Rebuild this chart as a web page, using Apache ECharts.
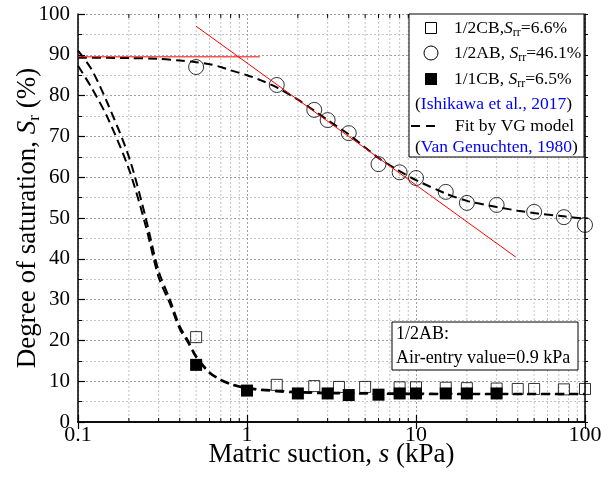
<!DOCTYPE html>
<html>
<head>
<meta charset="utf-8">
<script src="https://cdn.jsdelivr.net/npm/echarts@6/dist/echarts.min.js"></script>
<style>
html, body { margin: 0; padding: 0; background: #fff; }
#main { width: 601px; height: 495px; }
</style>
</head>
<body>
<div id="main"></div>
<script>
// measured points, s in kPa, Sr in %
var sCB2 = [0.5, 1.5, 2.5, 3.5, 5, 8, 10, 15, 20, 30, 40, 50, 75, 100];
var srCB2 = [20.8, 9.1, 8.8, 8.6, 8.6, 8.5, 8.5, 8.4, 8.3, 8.2, 8.1, 8.1, 8.0, 8.1];
var sAB = [0.5, 1.5, 2.5, 3, 4, 6, 8, 10, 15, 20, 30, 50, 75, 100];
var srAB = [87, 82.6, 76.5, 74, 70.8, 63.2, 61.2, 59.8, 56.4, 53.7, 53.2, 51.5, 50.2, 48.3];
var sCB1 = [0.5, 1, 2, 3, 4, 6, 8, 10, 15, 20, 30];
var srCB1 = [14, 7.7, 7.0, 7.0, 6.6, 6.7, 7.0, 7.0, 7.0, 7.0, 7.0];

// VG fitted curves
var fitS_AB = [0.1, 0.2, 0.3, 0.4, 0.5, 0.6, 0.7, 0.8, 1, 1.2, 1.5, 2, 2.5, 3, 4, 5, 6, 8, 10, 15, 20, 30, 40, 50, 75, 100];
var fitSr_AB = [89.3, 89.2, 89, 88.6, 88.2, 87.7, 87, 86.2, 85, 83.8, 82, 79, 76.3, 74, 70.5, 67.3, 64.7, 61.5, 59.3, 56, 54.2, 52.7, 51.8, 51.2, 50.4, 49.8];
var fitS_CB = [0.1, 0.12, 0.15, 0.2, 0.25, 0.3, 0.35, 0.4, 0.45, 0.5, 0.6, 0.7, 0.8, 1, 1.5, 2, 3, 5, 10, 20, 50, 100];
var fitSr_CB2 = [91, 86.5, 78, 65, 50.5, 37, 30, 23.5, 19.8, 16.2, 12.2, 10.4, 9.4, 8.4, 7.7, 7.4, 7.2, 7.1, 7.0, 6.9, 6.9, 6.9];
var fitSr_CB1 = [87.3, 82, 74.5, 62, 48.5, 35.5, 29, 22.8, 19.3, 15.8, 12.0, 10.2, 9.2, 8.2, 7.5, 7.2, 7.0, 6.9, 6.8, 6.8, 6.8, 6.8];

// red tangent lines for the air-entry value
var tangentFlat = [[0.1, 89.5], [1.19, 89.5]];
var tangentSlope = [[0.5, 97], [39, 40.4]];

var xMinor = [0.2, 0.3, 0.4, 0.5, 0.6, 0.7, 0.8, 0.9, 2, 3, 4, 5, 6, 7, 8, 9, 20, 30, 40, 50, 60, 70, 80, 90];

var FONT = 'Liberation Serif';

function zip(a, b) {
    return a.map(function (v, i) { return [v, b[i]]; });
}

var myChart = echarts.init(document.getElementById('main'));

var axisX = {
    type: 'log',
    logBase: 10,
    min: 0.1,
    max: 100,
    axisLine: { lineStyle: { color: '#000', width: 1.5 } },
    axisTick: { inside: true, length: 7, lineStyle: { color: '#000', width: 1.2 } },
    splitLine: { show: true, lineStyle: { color: '#a0a0a0', type: [2, 2], width: 1 } },
    minorTick: { show: false },
    minorSplitLine: { show: false }
};

var axisY = {
    type: 'value',
    min: 0,
    max: 100,
    interval: 10,
    axisLine: { show: true, lineStyle: { color: '#000', width: 1.5 } },
    axisTick: { show: true, inside: true, length: 7, lineStyle: { color: '#000', width: 1.2 } },
    minorTick: { show: true, splitNumber: 2, length: 4, lineStyle: { color: '#000', width: 1 } },
    splitLine: { show: true, lineStyle: { color: '#a0a0a0', type: [2, 2], width: 1 } },
    minorSplitLine: { show: true, lineStyle: { color: '#c4c4c4', type: [2, 2], width: 1 } }
};

var options = {
    animation: false,
    backgroundColor: '#fff',
    grid: { left: 78, right: 16, top: 14, bottom: 73, containLabel: false, outerBoundsMode: 'none' },
    xAxis: [
        Object.assign({}, axisX, {
            position: 'bottom',
            axisLabel: { color: '#000', fontFamily: FONT, fontSize: 22, margin: 2 },
            name: 'Matric suction, {i|s} (kPa)',
            nameLocation: 'middle',
            nameGap: 19,
            nameMoveOverlap: false,
            nameTextStyle: {
                color: '#000', fontFamily: FONT, fontSize: 27,
                rich: { i: { fontFamily: FONT, fontSize: 27, fontStyle: 'italic', color: '#000' } }
            }
        }),
        Object.assign({}, axisX, {
            position: 'top',
            axisLabel: { show: false },
            splitLine: { show: false }
        })
    ],
    yAxis: [
        Object.assign({}, axisY, {
            position: 'left',
            axisLabel: { color: '#000', fontFamily: FONT, fontSize: 21, margin: 8 },
            name: 'Degree of saturation, {i|S}{sub|r} (%)',
            nameLocation: 'middle',
            nameGap: 35,
            nameRotate: 90,
            nameMoveOverlap: false,
            nameTextStyle: {
                color: '#000', fontFamily: FONT, fontSize: 27, lineHeight: 30,
                rich: {
                    i: { fontFamily: FONT, fontSize: 27, fontStyle: 'italic', color: '#000', lineHeight: 30 },
                    sub: { fontFamily: FONT, fontSize: 17, color: '#000', verticalAlign: 'bottom', lineHeight: 17 }
                }
            }
        }),
        Object.assign({}, axisY, {
            position: 'right',
            axisLabel: { show: false },
            axisTick: { show: true, inside: false, length: 3, lineStyle: { color: '#000' } },
            minorTick: { show: true, splitNumber: 2, length: 3, lineStyle: { color: '#000' } },
            splitLine: { show: false },
            minorSplitLine: { show: false }
        })
    ],
    series: [
        {
            // minor log grid lines and minor ticks on bottom/top axes
            type: 'custom',
            xAxisIndex: 0,
            yAxisIndex: 0,
            silent: true,
            z: 1,
            data: xMinor.map(function (v) { return [v, 0]; }),
            encode: { x: 0, y: 1 },
            renderItem: function (params, api) {
                var v = api.value(0);
                var b = api.coord([v, 0]);
                var t = api.coord([v, 100]);
                return {
                    type: 'group',
                    children: [
                        { type: 'line', shape: { x1: b[0], y1: t[1], x2: b[0], y2: b[1] },
                          style: { stroke: '#c4c4c4', lineWidth: 1, lineDash: [2, 2] } },
                        { type: 'line', shape: { x1: b[0], y1: b[1], x2: b[0], y2: b[1] - 4 },
                          style: { stroke: '#000', lineWidth: 1 } },
                        { type: 'line', shape: { x1: b[0], y1: t[1], x2: b[0], y2: t[1] + 4 },
                          style: { stroke: '#000', lineWidth: 1 } }
                    ]
                };
            }
        },
        {
            name: 'VG 1/2AB',
            type: 'line',
            data: zip(fitS_AB, fitSr_AB),
            smooth: 0.3,
            symbol: 'none',
            z: 3,
            lineStyle: { color: '#000', width: 2, type: [9, 5] }
        },
        {
            name: 'VG 1/2CB',
            type: 'line',
            data: zip(fitS_CB, fitSr_CB2),
            smooth: 0.3,
            symbol: 'none',
            z: 3,
            lineStyle: { color: '#000', width: 2, type: [9, 5] }
        },
        {
            name: 'VG 1/1CB',
            type: 'line',
            data: zip(fitS_CB, fitSr_CB1),
            smooth: 0.3,
            symbol: 'none',
            z: 3,
            lineStyle: { color: '#000', width: 2, type: [9, 5] }
        },
        {
            name: '1/2CB',
            type: 'scatter',
            data: zip(sCB2, srCB2),
            symbol: 'rect',
            symbolSize: 11,
            z: 4,
            itemStyle: { color: 'rgba(255,255,255,0)', borderColor: '#000', borderWidth: 1 }
        },
        {
            name: '1/2AB',
            type: 'scatter',
            data: zip(sAB, srAB),
            symbol: 'circle',
            symbolSize: 15,
            z: 4,
            itemStyle: { color: 'rgba(255,255,255,0)', borderColor: '#000', borderWidth: 1 }
        },
        {
            name: '1/1CB',
            type: 'scatter',
            data: zip(sCB1, srCB1),
            symbol: 'rect',
            symbolSize: 12,
            z: 5,
            itemStyle: { color: '#000', opacity: 1 }
        },
        {
            name: 'tangent1',
            type: 'line',
            data: tangentFlat,
            symbol: 'none',
            z: 6,
            lineStyle: { color: '#ff0000', width: 1 }
        },
        {
            name: 'tangent2',
            type: 'line',
            data: tangentSlope,
            symbol: 'none',
            z: 6,
            lineStyle: { color: '#ff0000', width: 1 }
        }
    ],
    graphic: [
        // legend box
        { type: 'rect', z: 100, shape: { x: 409, y: 14, width: 175, height: 143 },
          style: { fill: '#fff', stroke: '#000', lineWidth: 1 } },
        { type: 'rect', z: 101, shape: { x: 425.5, y: 22.5, width: 11, height: 11 },
          style: { fill: '#fff', stroke: '#000', lineWidth: 1 } },
        { type: 'circle', z: 101, shape: { cx: 431, cy: 53, r: 7 },
          style: { fill: '#fff', stroke: '#000', lineWidth: 1 } },
        { type: 'rect', z: 101, shape: { x: 425, y: 73, width: 12, height: 12 },
          style: { fill: '#000' } },
        { type: 'line', z: 101, shape: { x1: 411, y1: 126, x2: 441, y2: 126 },
          style: { stroke: '#000', lineWidth: 2, lineDash: [9, 6] } }
    ]
};

function legendText(x, y, txt, size) {
    return {
        type: 'text', z: 102, x: x, y: y,
        style: {
            text: txt, fill: '#000', fontFamily: FONT, fontSize: size, lineHeight: 22,
            verticalAlign: 'middle', align: 'left',
            rich: {
                i: { fontFamily: FONT, fontSize: size, fontStyle: 'italic', fill: '#000', color: '#000', lineHeight: 22 },
                sub: { fontFamily: FONT, fontSize: 12, fill: '#000', color: '#000', verticalAlign: 'bottom', lineHeight: 12 },
                b: { fontFamily: FONT, fontSize: size, fill: '#0000ff', color: '#0000ff', lineHeight: 22 }
            }
        }
    };
}

options.graphic.push(
    legendText(454, 28, '1/2CB,{i|S}{sub|rr}=6.6%', 17.5),
    legendText(454, 53, '1/2AB, {i|S}{sub|rr}=46.1%', 17.5),
    legendText(454, 79, '1/1CB, {i|S}{sub|rr}=6.5%', 17.5),
    legendText(415, 104, '({b|Ishikawa et al., 2017})', 17.5),
    legendText(455, 126, 'Fit by VG model', 17.5),
    legendText(415, 147, '({b|Van Genuchten, 1980})', 17.5),
    // air-entry annotation
    { type: 'rect', z: 100, shape: { x: 392, y: 322, width: 186, height: 48 },
      style: { fill: '#fff', stroke: '#000', lineWidth: 1 } },
    legendText(396, 334, '1/2AB:', 18),
    legendText(396, 358, 'Air-entry value=0.9 kPa', 18)
);

myChart.setOption(options);
</script>
</body>
</html>
